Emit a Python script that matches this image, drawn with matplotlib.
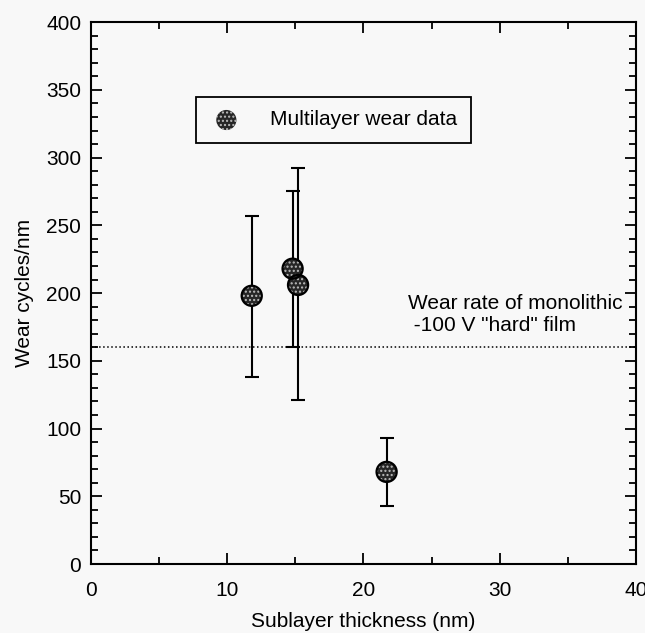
import matplotlib.pyplot as plt
import numpy as np
from matplotlib.ticker import MultipleLocator

# ---------------------------
# Datos
# ---------------------------
thickness = [11.8, 14.8, 15.2, 21.7]          # nm
wear = [198, 218, 206, 68]                    # ciclos/nm
err_low = [138, 160, 121, 43]
err_high = [257, 275, 292, 93]
monolithic_rate = 160

plt.rcParams['font.family'] = ['Liberation Sans', 'DejaVu Sans']
plt.rcParams['hatch.linewidth'] = 1.0

fig = plt.figure(figsize=(6.45, 6.33), dpi=100, facecolor='#f8f8f8')
ax = fig.add_axes([0.141, 0.109, 0.845, 0.856], facecolor='#f8f8f8')

wear_a = np.array(wear)
yerr = [wear_a - np.array(err_low), np.array(err_high) - wear_a]

ax.errorbar(thickness, wear, yerr=yerr, fmt='none', ecolor='black',
            elinewidth=1.5, capsize=5, capthick=1.5, zorder=2)

# linea del film monolitico
ax.axhline(monolithic_rate, color='black', linestyle=':', linewidth=1.1, zorder=1)

# marcadores oscuros con puntos claros
pts = ax.scatter(thickness, wear, s=210, facecolor='#262626', edgecolor='#bdbdbd',
                 hatch='....', linewidths=0, zorder=3, label='Multilayer wear data')
ax.scatter(thickness, wear, s=210, facecolor='none', edgecolor='black',
           linewidths=1.6, zorder=4)

ax.text(23.3, 184, 'Wear rate of monolithic\n -100 V "hard" film',
        fontsize=15, ha='left', va='center', linespacing=1.2)

leg = ax.legend(handles=[pts], loc='upper left', bbox_to_anchor=(0.193, 0.862),
                borderaxespad=0, fontsize=15, fancybox=False, framealpha=1,
                edgecolor='black', facecolor='#f8f8f8', handletextpad=1.3,
                borderpad=0.65, handlelength=1.6, markerscale=1.0)
leg.get_frame().set_linewidth(1.3)

ax.set_xlim(0, 40)
ax.set_ylim(0, 400)
ax.xaxis.set_major_locator(MultipleLocator(10))
ax.xaxis.set_minor_locator(MultipleLocator(5))
ax.yaxis.set_major_locator(MultipleLocator(50))
ax.yaxis.set_minor_locator(MultipleLocator(10))

ax.tick_params(which='both', direction='in', top=True, right=True, width=1.3)
ax.tick_params(which='major', length=8, labelsize=15)
ax.tick_params(axis='x', which='major', pad=12)
ax.tick_params(axis='y', which='major', pad=7)
ax.tick_params(which='minor', length=5)

for sp in ax.spines.values():
    sp.set_linewidth(1.5)

ax.set_xlabel('Sublayer thickness (nm)', fontsize=15, labelpad=9)
ax.set_ylabel('Wear cycles/nm', fontsize=15, labelpad=9)

fig.savefig('out.png', dpi=100, facecolor=fig.get_facecolor())
